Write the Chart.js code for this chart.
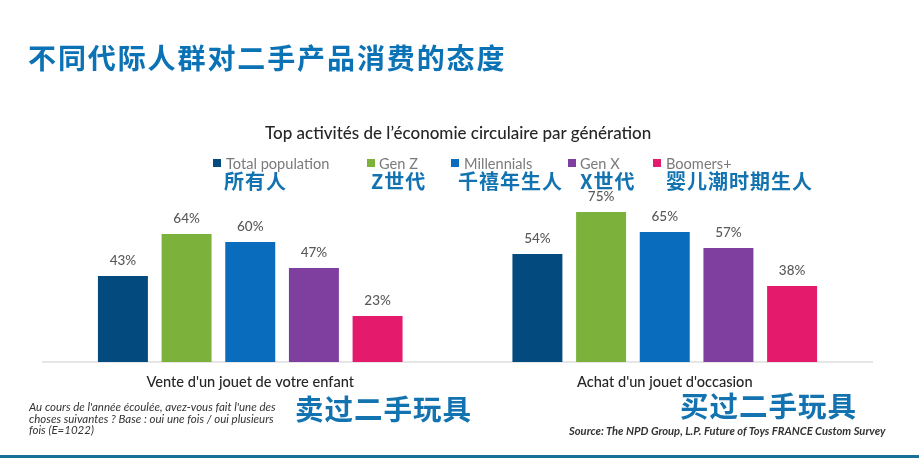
<!DOCTYPE html>
<html>
<head>
<meta charset="utf-8">
<script src="https://cdn.jsdelivr.net/npm/chart.js@4"></script>
<style>
  html, body { margin: 0; padding: 0; background: #fff; overflow: hidden; }
  #page { position: relative; width: 919px; height: 458px; overflow: hidden; }
  #chart { position: absolute; left: 0; top: 0; }
  .t { position: absolute; white-space: nowrap; line-height: 1; }
  .cn { font-family: "Noto Sans CJK SC", sans-serif; font-weight: 700; color: #1273b0; }
  #heading { left: 28px; top: 43px; font-size: 28px; letter-spacing: 1.9px; color: #0a72b5; }
  #subtitle { left: 265px; top: 122px; font: 500 17px Lato, sans-serif; color: #262626; }
  .legend-name { top: 155px; font: 14.6px Lato, sans-serif; color: #7a7a7a; }
  .swatch { position: absolute; top: 159px; width: 8px; height: 8px; }
  .small { top: 171px; font-size: 20px; letter-spacing: 1px; }
  .big { font-size: 28.5px; letter-spacing: 1px; }
  #note { left: 29px; top: 401px; font: italic 11.5px/11.5px Lato, sans-serif; color: #333; white-space: pre; }
  #source { left: 569px; top: 424px; font: italic 700 11.2px Lato, sans-serif; color: #333; }
  #band { position: absolute; left: 0; right: 0; top: 455px; height: 3px; background: #1a6f98; }
</style>
</head>
<body>
<div id="page">
  <canvas id="chart" width="919" height="458"></canvas>
  <div class="t cn" id="heading">不同代际人群对二手产品消费的态度</div>
  <div class="t" id="subtitle">Top activités de l’économie circulaire par génération</div>
  <div class="t cn small" style="left:224px">所有人</div>
  <div class="t cn small" style="left:371px">Z世代</div>
  <div class="t cn small" style="left:458px">千禧年生人</div>
  <div class="t cn small" style="left:580px">X世代</div>
  <div class="t cn small" style="left:666px">婴儿潮时期生人</div>
  <div class="t cn big" style="left:295px;top:394px">卖过二手玩具</div>
  <div class="t cn big" style="left:680px;top:391px">买过二手玩具</div>
  <div class="t" id="note">Au cours de l'année écoulée, avez-vous fait l'une des
choses suivantes ? Base : oui une fois / oui plusieurs
fois (E=1022)</div>
  <div class="t" id="source">Source: The NPD Group, L.P. Future of Toys FRANCE Custom Survey</div>
  <div id="band"></div>
</div>
<script>
// Chart data
const categories = ["Vente d'un jouet de votre enfant", "Achat d'un jouet d'occasion"];
const seriesNames = ['Total population', 'Gen Z', 'Millennials', 'Gen X', 'Boomers+'];
const totalPopulation = [43, 54];
const genZ = [64, 75];
const millennials = [60, 65];
const genX = [47, 57];
const boomers = [23, 38];
const seriesColors = ['#034a7e', '#7cb23c', '#0a6cbc', '#7e3f9e', '#e41b6c'];

// Legend sits at hand-picked spots, as in the original slide
const legendSwatchX = [213, 367, 451, 568, 653];
const legendTextX = [226, 379, 464, 580, 666];

const page = document.getElementById('page');
seriesNames.forEach((name, i) => {
  const swatch = document.createElement('div');
  swatch.className = 'swatch';
  swatch.style.left = legendSwatchX[i] + 'px';
  swatch.style.background = seriesColors[i];
  page.appendChild(swatch);

  const label = document.createElement('div');
  label.className = 't legend-name';
  label.style.left = legendTextX[i] + 'px';
  label.textContent = name;
  page.appendChild(label);
});

// Draws the "64%" labels above each bar
const barLabels = {
  id: 'barLabels',
  afterDatasetsDraw(chart) {
    const ctx = chart.ctx;
    ctx.save();
    ctx.font = '500 13.5px Lato, sans-serif';
    ctx.fillStyle = '#595959';
    ctx.textAlign = 'center';
    ctx.textBaseline = 'middle';
    chart.data.datasets.forEach((ds, i) => {
      chart.getDatasetMeta(i).data.forEach((bar, j) => {
        ctx.fillText(ds.data[j] + '%', bar.x, bar.y - 15);
      });
    });
    ctx.restore();
  }
};

new Chart(document.getElementById('chart').getContext('2d'), {
  type: 'bar',
  data: {
    labels: categories,
    datasets: [totalPopulation, genZ, millennials, genX, boomers].map((values, i) => ({
      label: seriesNames[i],
      data: values,
      backgroundColor: seriesColors[i],
      barPercentage: 0.785,
      categoryPercentage: 0.768
    }))
  },
  options: {
    responsive: false,
    animation: false,
    layout: { padding: { left: 43, right: 47, top: 162, bottom: 0 } },
    plugins: {
      legend: { display: false },
      title: { display: false },
      tooltip: { enabled: false }
    },
    scales: {
      x: {
        grid: { display: false },
        border: { color: '#e6e6e6', width: 2 },
        ticks: {
          color: '#262626',
          font: { family: 'Lato, sans-serif', size: 14.6, weight: '500' },
          padding: 4,
          maxRotation: 0
        },
        afterFit(scale) { scale.height = 96; }
      },
      y: { display: false, min: 0, max: 100 }
    }
  },
  plugins: [barLabels]
});
</script>
</body>
</html>
